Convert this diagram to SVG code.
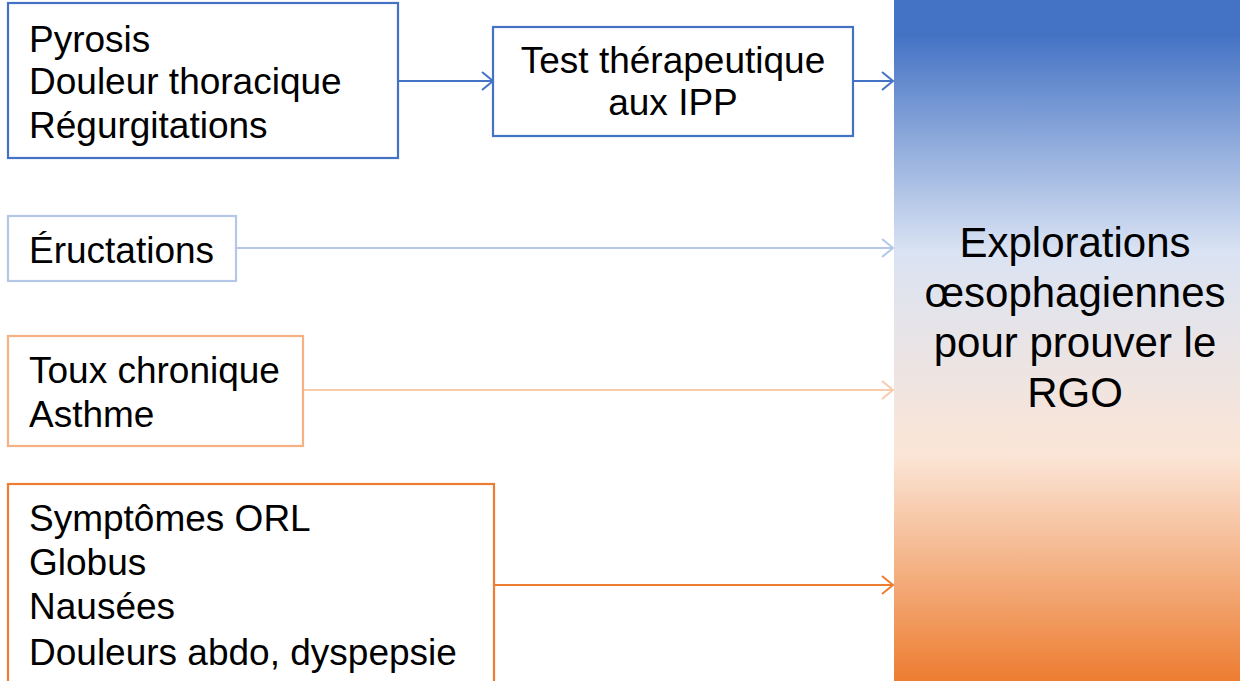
<svg xmlns="http://www.w3.org/2000/svg" width="1240" height="681" viewBox="0 0 1240 681">
<style>
text{font-family:"Liberation Sans",Arial,sans-serif;fill:#000}
.t{font-size:37px}
.big{font-size:42px;text-anchor:middle}
.box{fill:#fff;stroke-width:2.2}
.ln{fill:none;stroke-width:2}
</style>
<defs>
<linearGradient id="g" x1="0" y1="0" x2="0" y2="1">
<stop offset="0" stop-color="#4472C4"/>
<stop offset="0.05" stop-color="#4472C4"/>
<stop offset="0.37" stop-color="#DAE3F3"/>
<stop offset="0.67" stop-color="#FBE5D6"/>
<stop offset="1" stop-color="#ED7D31"/>
</linearGradient>
</defs>
<g id="target">
<rect x="894" y="0" width="346" height="681" fill="url(#g)"/>
<text class="big" x="1075" y="257">Explorations</text>
<text class="big" x="1075" y="307">œsophagiennes</text>
<text class="big" x="1075" y="357">pour prouver le</text>
<text class="big" x="1075" y="407">RGO</text>
</g>
<g id="connectors">
<path class="ln" stroke="#4472C4" d="M398 81H493M482 72L493 81L482 90"/>
<path class="ln" stroke="#4472C4" d="M853 81H893M882 72L893 81L882 90"/>
<path class="ln" stroke="#B4C7E7" d="M236 248H893M882 239L893 248L882 257"/>
<path class="ln" stroke="#F8CBAD" d="M303 390H893M882 381L893 390L882 399"/>
<path class="ln" stroke="#ED7D31" d="M494 585H893M882 576L893 585L882 594"/>
</g>
<g id="n1">
<rect class="box" x="8" y="3" width="390" height="155" stroke="#4472C4"/>
<text class="t" x="29" y="52">Pyrosis</text>
<text class="t" x="29" y="94">Douleur thoracique</text>
<text class="t" x="29" y="138">Régurgitations</text>
</g>
<g id="n2">
<rect class="box" x="493" y="27" width="360" height="109" stroke="#4472C4"/>
<text class="t" x="673" y="73" text-anchor="middle">Test thérapeutique</text>
<text class="t" x="673" y="115" text-anchor="middle">aux IPP</text>
</g>
<g id="n3">
<rect class="box" x="8" y="216" width="228" height="65" stroke="#B4C7E7"/>
<text class="t" x="29" y="263">Éructations</text>
</g>
<g id="n4">
<rect class="box" x="8" y="336" width="295" height="110" stroke="#F4B183"/>
<text class="t" x="29" y="383">Toux chronique</text>
<text class="t" x="29" y="427">Asthme</text>
</g>
<g id="n5">
<rect class="box" x="8" y="484" width="486" height="210" stroke="#ED7D31"/>
<text class="t" x="29" y="531">Symptômes ORL</text>
<text class="t" x="29" y="575">Globus</text>
<text class="t" x="29" y="619">Nausées</text>
<text class="t" x="29" y="665">Douleurs abdo, dyspepsie</text>
</g>
</svg>
